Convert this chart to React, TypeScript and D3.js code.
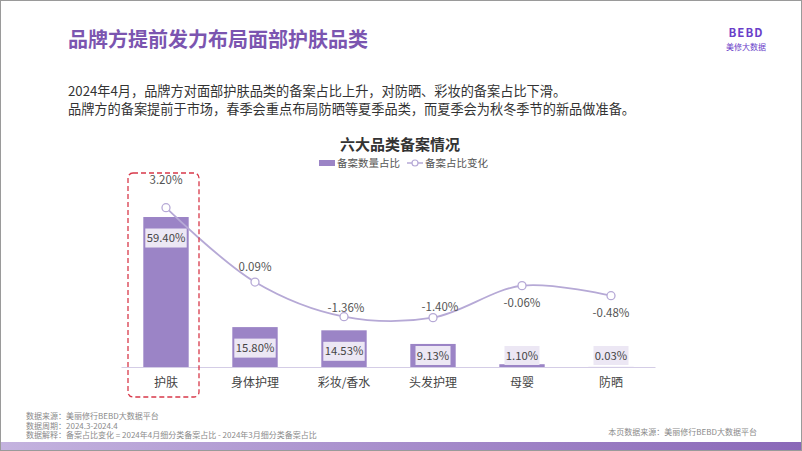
import React from "react";
import * as d3 from "d3";

const categories = ["护肤", "身体护理", "彩妆/香水", "头发护理", "母婴", "防晒"];
const shareValues = [59.4, 15.8, 14.53, 9.13, 1.1, 0.03];
const changeValues = [3.2, 0.09, -1.36, -1.4, -0.06, -0.48];
const changeLabelDx = [0, 0, 2, 7, 0, 0];
const changeLabelDy = [-28, -15, -9, -11, 17, 17];

const W = 802;
const H = 451;
const FONT = "'Noto Sans CJK SC', 'Noto Sans', sans-serif";
const BAR = "#9b84c6";
const LINE = "#b6a9d6";

export default function App() {
  const x = d3.scaleBand<string>().domain(categories).range([121.5, 655.5]).paddingInner(0.49).paddingOuter(0.245);
  const yBar = d3.scaleLinear().domain([0, 60]).range([367, 215.5]);
  const yLine = d3.scaleLinear().domain([-2, 4]).range([332, 188.6]);
  const cx = (c: string) => (x(c) as number) + x.bandwidth() / 2;

  const lineGen = d3
    .line<number>()
    .x((_, i) => cx(categories[i]))
    .y((d) => yLine(d))
    .curve(d3.curveCatmullRom.alpha(0.5));

  const fmt = (v: number) => v.toFixed(2) + "%";

  return (
    <svg width={W} height={H} style={{ position: "absolute", left: 0, top: 0, fontFamily: FONT }}>
      <defs>
        <linearGradient id="band" x1="0" x2="1" y1="0" y2="0">
          <stop offset="0" stopColor="#c4b3df" />
          <stop offset="1" stopColor="#8a68b8" />
        </linearGradient>
      </defs>
      <rect x={0} y={0} width={W} height={H} fill="#fff" />
      <rect x={0.5} y={0.5} width={W - 1} height={H - 1} fill="none" stroke="#9a9a9a" />
      <rect x={1} y={442} width={W - 2} height={8} fill="url(#band)" />

      {/* title */}
      <text x={68} y={47} fontSize={20} fontWeight="bold" fill="#7b55b0">
        品牌方提前发力布局面部护肤品类
      </text>

      {/* logo */}
      <text x={746} y={37} fontSize={11.5} fontWeight="bold" fill="#6a3fc9" textAnchor="middle" letterSpacing={1}>
        BEBD
      </text>
      <text x={746} y={50} fontSize={8} fill="#6a3fc9" textAnchor="middle">
        美修大数据
      </text>

      {/* description */}
      <text x={68} y={96} fontSize={13.2} fill="#333">
        2024年4月，品牌方对面部护肤品类的备案占比上升，对防晒、彩妆的备案占比下滑。
      </text>
      <text x={68} y={114} fontSize={13.2} fill="#333">
        品牌方的备案提前于市场，春季会重点布局防晒等夏季品类，而夏季会为秋冬季节的新品做准备。
      </text>

      {/* chart title */}
      <text x={400} y={150} fontSize={15} fontWeight="bold" fill="#333" textAnchor="middle">
        六大品类备案情况
      </text>

      {/* legend */}
      <rect x={319} y={160} width={16} height={6} fill={BAR} />
      <text x={337} y={167} fontSize={10.5} fill="#555">
        备案数量占比
      </text>
      <line x1={407} x2={423} y1={163} y2={163} stroke={LINE} strokeWidth={1.5} />
      <circle cx={415} cy={163} r={3} fill="#fff" stroke={LINE} strokeWidth={1.2} />
      <text x={425} y={167} fontSize={10.5} fill="#555">
        备案占比变化
      </text>

      {/* axis line */}
      <line x1={121.5} x2={655.5} y1={367.5} y2={367.5} stroke="#d4cde6" strokeWidth={1} />

      {/* bars */}
      {shareValues.map((v, i) => (
        <rect
          key={"b" + i}
          x={x(categories[i])}
          y={yBar(v)}
          width={x.bandwidth()}
          height={367 - yBar(v)}
          fill={BAR}
        />
      ))}

      {/* bar labels */}
      {shareValues.map((v, i) => {
        const cy = Math.min(yBar(v) + 21, 355.5);
        const w = fmt(v).length * 6.4 + 3;
        return (
          <g key={"bl" + i}>
            <rect x={cx(categories[i]) - w / 2} y={cy - 9.5} width={w} height={19} fill="#ece7f4" />
            <text x={cx(categories[i])} y={cy + 4} fontSize={11.3} fill="#444" textAnchor="middle">
              {fmt(v)}
            </text>
          </g>
        );
      })}

      {/* line */}
      <path d={lineGen(changeValues) || ""} fill="none" stroke={LINE} strokeWidth={1.8} />
      {changeValues.map((v, i) => (
        <circle key={"c" + i} cx={cx(categories[i])} cy={yLine(v)} r={4} fill="#fff" stroke={LINE} strokeWidth={1.3} />
      ))}
      {changeValues.map((v, i) => (
        <text
          key={"cl" + i}
          x={cx(categories[i]) + changeLabelDx[i]}
          y={yLine(v) + changeLabelDy[i] + 4}
          fontSize={11.5}
          fill="#555"
          textAnchor="middle"
        >
          {fmt(v)}
        </text>
      ))}

      {/* category labels */}
      {categories.map((c) => (
        <text key={c} x={cx(c)} y={387} fontSize={12} fill="#444" textAnchor="middle">
          {c}
        </text>
      ))}

      {/* highlight box */}
      <rect x={128} y={173} width={71} height={224} rx={5} fill="none" stroke="#d8394a" strokeWidth={1.3} strokeDasharray="5,3" />

      {/* footer */}
      <text x={26} y={419} fontSize={8} fill="#8a8a8a">数据来源：美丽修行BEBD大数据平台</text>
      <text x={26} y={428.5} fontSize={8} fill="#8a8a8a">数据周期：2024.3-2024.4</text>
      <text x={26} y={438} fontSize={8} fill="#8a8a8a">
        数据解释：备案占比变化 = 2024年4月细分类备案占比 - 2024年3月细分类备案占比
      </text>
      <text x={757} y={435} fontSize={8} fill="#8a8a8a" textAnchor="end">
        本页数据来源：美丽修行BEBD大数据平台
      </text>
    </svg>
  );
}
